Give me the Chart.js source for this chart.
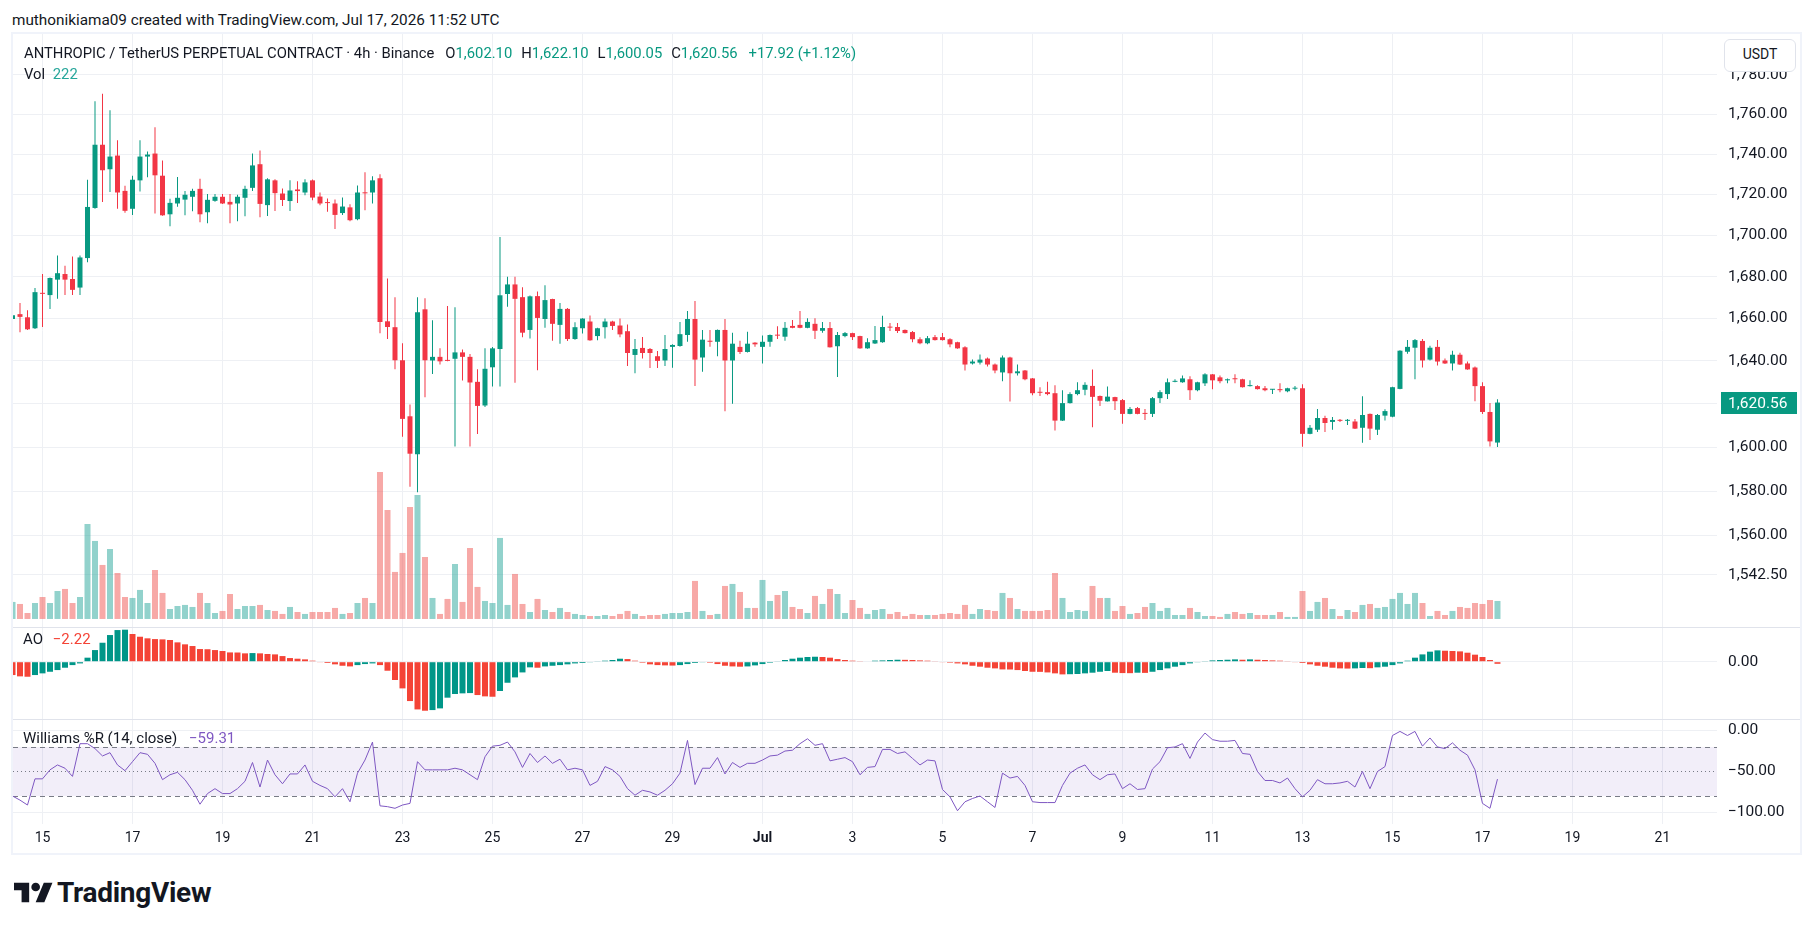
<!DOCTYPE html>
<html>
<head>
<meta charset="utf-8">
<script src="https://cdn.jsdelivr.net/npm/chart.js@4.4.1/dist/chart.umd.min.js"></script>
<style>
  body { margin: 0; width: 1814px; height: 930px; position: relative; overflow: hidden; background: #fff;
         font-family: Roboto, "Noto Sans", sans-serif; color: #131722; }
  .abs { position: absolute; white-space: nowrap; }
  #frame { left: 11px; top: 32px; width: 1791px; height: 823px; box-sizing: border-box; border: 2px solid #f0f3fa; }
  .sep { left: 13px; width: 1787px; height: 1px; background: #e0e3eb; }
  .up { color: #089981; }
  #usdt { left: 1724px; top: 39px; width: 72px; height: 33px; box-sizing: border-box; border: 1px solid #e0e3eb;
          border-radius: 6px; background: #fff; font-size: 14px; line-height: 29px; text-align: center; }
</style>
</head>
<body>
<div id="hdr" class="abs" style="left:12px;top:10px;font-size:15.3px;line-height:20px">muthonikiama09 created with TradingView.com, Jul 17, 2026 11:52 UTC</div>
<div id="frame" class="abs"></div>
<canvas id="mainChart" class="abs" width="1787" height="593" style="left:13px;top:34px"></canvas>
<div class="abs sep" style="top:627px"></div>
<canvas id="aoChart" class="abs" width="1787" height="91" style="left:13px;top:628px"></canvas>
<div class="abs sep" style="top:719px"></div>
<canvas id="wrChart" class="abs" width="1787" height="133" style="left:13px;top:720px"></canvas>

<div id="leg1" class="abs" style="left:24px;top:44px;font-size:14.8px;line-height:19px"></div>
<div id="leg2" class="abs" style="left:24px;top:65px;font-size:14.8px;line-height:19px"></div>
<div id="aoLabel" class="abs" style="left:23px;top:630px;font-size:15px;line-height:18px"></div>
<div id="wrLabel" class="abs" style="left:23px;top:729px;font-size:15px;line-height:18px"></div>
<div id="usdt" class="abs">USDT</div>

<svg class="abs" style="left:14px;top:878px" width="39" height="31" viewBox="0 0 36 28">
  <path fill="#131722" d="M14 22H7V11H0V4h14v18zM28 22h-8l7.5-18h8L28 22z"/>
  <circle fill="#131722" cx="20" cy="8" r="4"/>
</svg>
<div class="abs" style="left:57px;top:876px;font-size:28px;line-height:34px;font-weight:bold;letter-spacing:-0.3px">TradingView</div>

<script>
// 4h candles, Jun 14 08:00 -> Jul 17 08:00
const opens = [
  1659.8,1662.1,1660.6,1655.4,1672.2,1671.2,1678.6,1681.3,1678.9,1674.8,
  1689.0,1713.4,1744.7,1732.5,1739.3,1721.8,1713.0,1727.0,1738.8,1740.3,
  1729.3,1710.3,1715.6,1717.5,1718.9,1722.8,1711.3,1716.9,1718.9,1716.4,
  1715.6,1718.4,1723.3,1735.0,1714.8,1727.0,1720.5,1716.8,1722.5,1721.0,
  1727.0,1719.0,1716.0,1715.6,1710.9,1713.7,1707.9,1721.0,1721.0,1728.0,
  1658.7,1655.9,1640.3,1614.2,1596.7,1664.4,1640.2,1641.9,1640.2,1641.0,
  1644.0,1641.9,1630.2,1619.2,1637.0,1645.6,1671.7,1676.3,1670.2,1654.6,
  1670.7,1659.8,1669.3,1657.0,1664.6,1650.3,1655.4,1658.6,1651.7,1655.9,
  1658.6,1656.7,1654.0,1642.8,1646.1,1645.6,1642.2,1640.2,1646.6,1647.0,
  1652.2,1659.8,1641.6,1649.5,1649.0,1654.6,1640.2,1646.6,1644.2,1648.6,
  1646.6,1649.0,1652.2,1651.4,1656.5,1657.0,1655.6,1657.5,1654.2,1655.5,
  1646.9,1651.7,1653.1,1651.7,1645.9,1648.2,1648.8,1656.0,1656.0,1654.6,
  1653.6,1650.2,1648.3,1651.2,1651.2,1650.2,1648.8,1646.4,1638.8,1639.2,
  1641.1,1638.3,1634.6,1641.6,1634.2,1635.5,1631.8,1625.4,1625.4,1624.9,
  1612.2,1620.3,1624.5,1626.5,1628.3,1623.6,1621.1,1623.1,1621.7,1615.3,
  1618.0,1615.6,1615.3,1622.6,1624.5,1630.2,1630.0,1631.4,1626.3,1629.5,
  1633.7,1632.3,1630.9,1631.8,1631.4,1628.2,1628.2,1627.2,1626.5,1626.8,
  1625.8,1627.0,1627.2,1606.1,1608.0,1613.4,1611.6,1612.5,1612.1,1611.8,
  1608.9,1615.3,1608.0,1614.5,1614.0,1626.9,1644.3,1646.2,1649.4,1640.6,
  1646.6,1640.2,1638.8,1642.9,1638.8,1636.9,1628.2,1616.2,1602.10
];
const highs = [
  1662.0,1667.4,1664.0,1674.6,1681.3,1679.6,1690.2,1685.3,1689.8,1690.2,
  1727.3,1766.5,1770.3,1762.0,1747.0,1724.3,1729.3,1747.0,1741.3,1753.4,
  1736.8,1717.9,1728.7,1721.8,1722.8,1727.8,1720.3,1720.3,1720.3,1720.3,
  1719.9,1724.3,1740.3,1741.8,1728.0,1727.6,1723.0,1727.0,1726.5,1727.5,
  1727.4,1721.0,1718.0,1717.6,1718.5,1715.2,1724.5,1731.0,1729.0,1730.0,
  1679.2,1670.2,1648.3,1619.7,1670.2,1669.7,1659.2,1645.9,1666.0,1665.4,
  1645.4,1643.2,1636.1,1645.9,1646.5,1699.2,1680.0,1680.0,1675.0,1671.0,
  1672.9,1675.9,1669.5,1667.4,1665.0,1658.2,1660.2,1661.4,1655.6,1660.0,
  1659.0,1660.0,1657.2,1650.3,1651.3,1646.1,1644.6,1652.2,1647.8,1658.4,
  1663.6,1668.4,1654.6,1654.6,1654.8,1659.8,1653.3,1649.5,1653.7,1648.8,
  1652.0,1652.4,1656.4,1658.4,1659.3,1663.6,1660.2,1660.2,1658.4,1658.4,
  1653.6,1653.6,1653.3,1651.9,1650.7,1656.5,1661.3,1657.9,1657.9,1654.8,
  1654.1,1651.2,1651.7,1652.2,1653.1,1650.7,1649.0,1646.9,1640.6,1643.0,
  1641.6,1638.8,1642.5,1642.0,1638.3,1635.7,1632.0,1627.7,1630.2,1628.6,
  1626.3,1625.4,1630.0,1630.0,1636.0,1623.8,1628.0,1623.3,1622.2,1618.5,
  1618.5,1617.6,1623.1,1626.3,1631.8,1631.4,1633.2,1632.8,1630.2,1634.2,
  1633.9,1633.2,1631.8,1633.7,1631.6,1630.9,1628.6,1628.2,1626.9,1629.5,
  1627.4,1628.2,1629.1,1610.2,1617.6,1614.4,1613.9,1612.9,1613.0,1613.0,
  1623.5,1615.5,1615.3,1617.5,1627.9,1645.0,1649.8,1650.3,1650.3,1647.1,
  1649.8,1641.1,1644.8,1643.8,1639.7,1637.4,1630.0,1620.3,1622.10
];
const lows = [
  1659.5,1653.5,1654.6,1655.0,1656.0,1664.6,1669.4,1671.2,1671.2,1671.2,
  1687.0,1713.0,1716.3,1721.3,1713.0,1711.0,1710.0,1721.5,1728.5,1710.7,
  1709.6,1704.4,1714.0,1709.8,1711.8,1706.4,1705.9,1716.5,1715.4,1705.9,
  1706.9,1709.3,1721.8,1708.8,1709.5,1711.9,1714.4,1711.9,1715.8,1719.7,
  1717.2,1714.7,1711.5,1703.1,1710.0,1706.9,1707.4,1712.3,1715.6,1653.0,
  1650.3,1636.1,1604.8,1582.0,1579.5,1623.0,1633.9,1638.3,1639.8,1600.3,
  1630.8,1600.3,1606.0,1618.5,1628.0,1628.0,1665.6,1629.8,1651.2,1650.5,
  1635.6,1655.6,1649.5,1648.1,1649.4,1650.0,1652.9,1649.5,1649.7,1650.5,
  1654.6,1651.1,1637.6,1634.2,1641.1,1636.7,1636.7,1637.6,1636.8,1646.6,
  1649.0,1628.2,1634.9,1646.6,1642.2,1616.5,1620.0,1643.3,1644.0,1646.6,
  1638.8,1646.6,1650.3,1649.5,1655.4,1655.4,1655.4,1650.3,1653.3,1646.3,
  1632.5,1651.2,1649.8,1645.7,1645.7,1648.0,1648.6,1654.1,1653.1,1652.9,
  1648.8,1647.8,1647.8,1649.6,1649.6,1646.4,1645.7,1635.5,1638.3,1638.3,
  1637.4,1634.2,1630.5,1621.0,1633.2,1630.9,1624.0,1623.6,1624.0,1607.6,
  1612.0,1620.1,1624.0,1624.0,1609.1,1619.0,1621.0,1617.1,1610.7,1615.1,
  1615.1,1612.5,1613.9,1620.3,1622.2,1630.0,1629.8,1621.7,1625.8,1628.2,
  1626.8,1629.5,1629.5,1629.5,1627.5,1628.0,1626.6,1625.8,1624.5,1625.4,
  1625.4,1626.3,1600.2,1605.9,1607.0,1607.0,1608.0,1611.6,1610.2,1608.3,
  1602.0,1603.3,1605.6,1612.3,1613.8,1626.7,1643.4,1631.4,1636.9,1640.2,
  1637.8,1638.6,1635.5,1638.1,1635.8,1621.2,1615.3,1600.3,1600.05
];
const closes = [
  1661.6,1660.8,1654.9,1672.6,1671.8,1679.4,1681.7,1678.6,1673.7,1689.3,
  1713.9,1744.7,1732.0,1738.8,1721.0,1712.0,1727.3,1738.8,1739.8,1729.5,
  1709.8,1715.9,1718.4,1719.9,1721.8,1710.3,1717.4,1718.9,1715.6,1715.1,
  1718.9,1722.8,1734.4,1715.4,1727.5,1720.7,1717.3,1722.0,1721.7,1726.0,
  1718.5,1715.6,1715.8,1710.0,1714.1,1707.4,1721.0,1720.6,1727.0,1658.4,
  1656.0,1640.3,1613.0,1597.0,1663.0,1640.3,1641.9,1639.8,1640.0,1644.0,
  1641.9,1629.9,1619.0,1636.3,1645.9,1671.1,1676.3,1669.4,1653.3,1670.6,
  1660.3,1668.8,1657.5,1664.6,1650.3,1655.9,1660.0,1649.7,1655.4,1658.6,
  1656.5,1652.5,1643.7,1645.6,1643.7,1643.7,1640.0,1645.6,1647.5,1652.6,
  1659.8,1640.6,1650.0,1649.0,1654.6,1640.2,1648.1,1644.2,1648.1,1647.8,
  1649.0,1652.2,1651.9,1655.6,1655.6,1655.6,1658.4,1654.2,1655.5,1646.4,
  1652.2,1653.1,1651.2,1645.9,1648.8,1649.8,1656.0,1655.7,1654.1,1653.1,
  1650.2,1648.3,1650.7,1649.8,1649.8,1647.8,1645.9,1638.3,1639.7,1640.6,
  1638.3,1635.5,1641.6,1634.2,1635.1,1631.4,1624.9,1625.1,1624.5,1612.2,
  1620.3,1624.5,1626.3,1628.8,1623.2,1621.4,1623.3,1621.2,1615.3,1617.6,
  1615.3,1615.3,1622.6,1625.4,1630.0,1630.5,1631.8,1626.3,1630.0,1633.7,
  1630.9,1630.5,1631.4,1631.4,1627.7,1628.4,1626.8,1626.3,1626.8,1626.3,
  1627.2,1627.2,1606.1,1608.9,1613.4,1611.1,1612.5,1612.1,1612.5,1608.5,
  1614.8,1608.5,1614.8,1616.6,1627.7,1644.8,1646.6,1649.8,1640.2,1646.2,
  1639.7,1638.8,1642.9,1638.3,1636.0,1628.2,1616.2,1602.64,1620.56
];
const volumes = [
  210,185,74,197,271,197,345,370,197,271,
  1171,962,666,863,567,271,259,358,197,604,
  321,123,160,173,148,321,197,74,99,308,
  123,160,160,173,111,99,62,148,86,62,
  86,86,86,136,62,74,197,259,197,1813,
  1344,580,814,1381,1529,764,259,62,247,678,
  210,875,395,222,197,999,173,555,185,86,
  247,111,86,136,86,62,49,37,37,49,
  37,62,99,62,37,49,49,62,74,74,
  86,469,99,49,62,407,432,333,136,136,
  481,222,296,345,148,123,74,284,185,370,
  308,74,234,136,62,111,123,62,86,37,
  62,49,49,49,62,74,62,173,62,123,
  111,99,321,259,123,99,99,99,111,567,
  259,86,111,99,407,259,259,99,160,62,
  74,148,197,99,136,49,49,136,86,37,
  37,25,62,86,62,74,49,49,49,86,
  25,25,345,99,210,259,123,37,111,86,
  173,185,136,148,247,321,185,321,197,37,
  99,49,99,148,136,197,185,234,222
];
const aoValues = [
  -14.2,-15.6,-16.0,-14.2,-12.4,-10.7,-8.9,-6.4,-3.6,-1.8,
  4.3,12.4,20.2,28.4,33.7,34.1,29.5,26.6,24.9,24.1,
  23.8,23.1,20.6,18.5,16.7,13.5,13.3,12.4,11.4,9.9,
  9.8,8.9,9.2,8.9,8.2,7.8,6.0,3.9,3.2,2.5,
  1.1,-0.4,-1.4,-2.8,-4.3,-5.0,-3.6,-2.5,-1.8,-3.6,
  -9.6,-19.5,-28.4,-41.9,-50.8,-52.2,-51.5,-49.7,-38.3,-34.4,
  -33.7,-33.4,-35.5,-36.9,-37.3,-31.2,-22.4,-16.7,-11.4,-6.0,
  -6.4,-5.0,-4.3,-3.6,-2.8,-1.8,-1.4,-0.7,0.4,1.1,
  1.8,3.2,2.8,1.1,-1.1,-2.8,-3.6,-3.9,-4.1,-3.6,
  -2.5,-1.4,-0.7,-1.1,-2.5,-4.3,-5.0,-5.3,-5.0,-3.9,
  -2.5,-1.1,0.4,1.8,3.2,4.3,5.0,5.3,5.0,4.3,
  2.8,1.8,1.1,0.7,0.5,1.1,1.4,1.8,2.1,2.0,
  1.8,1.4,1.1,0.4,-0.4,-1.1,-1.8,-2.8,-4.3,-5.3,
  -6.4,-7.1,-8.2,-8.3,-8.9,-9.9,-10.7,-10.8,-11.4,-12.4,
  -13.5,-13.3,-13.1,-12.4,-11.7,-10.7,-9.9,-11.7,-12.1,-12.2,
  -11.7,-11.9,-10.7,-8.9,-7.1,-5.3,-3.6,-1.8,-0.7,0.7,
  1.4,1.8,2.1,2.5,2.1,2.5,2.1,1.8,1.4,1.1,
  0.7,-0.4,-1.4,-2.8,-4.3,-5.3,-6.4,-7.1,-7.3,-7.1,
  -6.7,-6.9,-6.0,-5.3,-3.6,-1.8,1.1,4.3,7.8,10.7,
  12.1,11.7,11.4,11.0,9.6,7.5,5.0,1.8,-2.22
];
const williamsR = [
  -80,-85,-91,-59,-59,-48,-42,-46,-56,-16,
  -16,-22,-31,-27,-42,-49,-38,-27,-29,-40,
  -60,-54,-51,-60,-73,-90,-77,-71,-77,-77,
  -71,-62,-39,-69,-36,-54,-65,-53,-53,-42,
  -62,-67,-71,-81,-71,-87,-52,-36,-14,-92,
  -93,-95,-91,-89,-38,-48,-48,-48,-48,-46,
  -48,-54,-60,-32,-19,-18,-14,-26,-45,-28,
  -39,-31,-40,-35,-48,-46,-48,-67,-62,-44,
  -48,-56,-71,-79,-73,-75,-79,-73,-65,-52,
  -12,-66,-46,-46,-33,-53,-39,-45,-40,-40,
  -36,-31,-30,-25,-24,-16,-10,-18,-16,-37,
  -35,-33,-38,-54,-45,-44,-23,-23,-28,-26,
  -34,-42,-36,-37,-72,-81,-98,-87,-83,-80,
  -87,-94,-52,-58,-56,-67,-87,-88,-88,-88,
  -67,-52,-46,-42,-54,-60,-54,-53,-71,-65,
  -72,-71,-47,-38,-21,-20,-16,-34,-14,-3,
  -11,-13,-13,-12,-28,-29,-50,-61,-61,-64,
  -58,-71,-81,-73,-60,-65,-65,-64,-62,-69,
  -50,-71,-50,-44,-6,-1,-6,-1,-19,-9,
  -20,-22,-15,-24,-30,-48,-89,-95,-59.31
];
// x-axis: candle index of each date label (every 2 days)
const dateTicks = [4,16,28,40,52,64,76,88,100,112,124,136,148,160,172,184,196,208,220];
const dateLabels = ['15','17','19','21','23','25','27','29','Jul','3','5','7','9','11','13','15','17','19','21'];
const priceTicks = [1542.5,1560,1580,1600,1620,1640,1660,1680,1700,1720,1740,1760,1780];
const aoTicks = [0];
const wrTicks = [0,-50,-100];

const UP = '#089981', DOWN = '#f23645';
const GRID = '#eef0f4', TEXT = '#131722';
const FONT = 'Roboto';
const AXIS_W = 83;
const X_MIN = 0.0667, X_MAX = 227.27;
const last = closes.length - 1;

Chart.defaults.font.family = FONT;
Chart.defaults.color = TEXT;

const fmt = v => v.toLocaleString('en-US', {minimumFractionDigits: 2, maximumFractionDigits: 2}).replace('-', '\u2212');
const idx = closes.map((_, i) => i);
const isUp = idx.map(i => closes[i] >= opens[i]);
const candleColors = isUp.map(u => u ? UP : DOWN);
const volColors = isUp.map(u => u ? 'rgba(38,166,154,0.5)' : 'rgba(239,83,80,0.5)');
const aoColors = aoValues.map((v, i) => i > 0 && v > aoValues[i - 1] ? '#009688' : '#f44336');

const xAxis = (showLabels) => ({
  type: 'linear', min: X_MIN, max: X_MAX, offset: false,
  grid: { color: GRID, drawTicks: false, offset: false },
  border: { display: false },
  ticks: {
    display: showLabels, autoSkip: false, maxRotation: 0, padding: 6, color: TEXT,
    font: c => ({ family: FONT, size: 14, weight: c.tick && c.tick.value === 100 ? 'bold' : 'normal' }),
    callback: (v, i) => dateLabels[i]
  },
  afterBuildTicks: s => { s.ticks = dateTicks.map(v => ({ value: v })); },
  afterFit: s => { s.height = showLabels ? 29 : 0; s.paddingLeft = 0; s.paddingRight = 0; }
});

const yAxis = (type, min, max, ticks, gridColor) => ({
  type: type, position: 'right', min: min, max: max, bounds: 'data',
  grid: { color: gridColor || GRID, drawTicks: false },
  border: { display: false },
  ticks: { padding: 11, color: TEXT, font: { size: 15.5 }, callback: v => fmt(v) },
  afterBuildTicks: s => { s.ticks = ticks.map(v => ({ value: v })); },
  afterFit: s => { s.width = AXIS_W; s.paddingTop = 0; s.paddingBottom = 0; }
});

const baseOptions = {
  responsive: false, animation: false, events: [],
  layout: { padding: 0 },
  plugins: { legend: { display: false }, tooltip: { enabled: false } },
  datasets: { bar: { grouped: false, inflateAmount: 0 } }
};

// last price tag on the price scale
const lastPriceTag = {
  id: 'lastPriceTag',
  afterDraw(chart) {
    const { ctx, chartArea, scales } = chart;
    const y = Math.round(scales.y.getPixelForValue(closes[last]));
    ctx.save();
    ctx.fillStyle = isUp[last] ? UP : DOWN;
    ctx.fillRect(chartArea.right + 4, y - 11, 76, 22);
    ctx.fillStyle = '#fff';
    ctx.font = '15.5px ' + FONT;
    ctx.textBaseline = 'middle';
    ctx.fillText(fmt(closes[last]), chartArea.right + 11, y + 1);
    ctx.restore();
  }
};

new Chart(document.getElementById('mainChart'), {
  type: 'bar',
  data: {
    datasets: [
      { data: idx.map(i => ({ x: i, y: [opens[i], closes[i]] })), backgroundColor: candleColors,
        barThickness: 5, minBarLength: 1, yAxisID: 'y', order: 1 },
      { data: idx.map(i => ({ x: i, y: [lows[i], highs[i]] })), backgroundColor: candleColors,
        barThickness: 1, yAxisID: 'y', order: 2 },
      { data: idx.map(i => ({ x: i, y: volumes[i] })), backgroundColor: volColors,
        barThickness: 6, yAxisID: 'yv', order: 3 }
    ]
  },
  options: Object.assign({}, baseOptions, {
    scales: {
      x: xAxis(false),
      y: yAxis('logarithmic', 1519.7, 1800.9, priceTicks),
      yv: { type: 'linear', display: false, min: -99, max: 7213 }
    }
  }),
  plugins: [lastPriceTag]
});

new Chart(document.getElementById('aoChart'), {
  type: 'bar',
  data: {
    datasets: [
      { data: idx.map(i => ({ x: i, y: aoValues[i] })), backgroundColor: aoColors, barThickness: 6 }
    ]
  },
  options: Object.assign({}, baseOptions, {
    scales: { x: xAxis(false), y: yAxis('linear', -61.0, 35.9, aoTicks) }
  })
});

// %R band between -20 and -80
const wrBand = {
  id: 'wrBand',
  beforeDatasetsDraw(chart) {
    const { ctx, chartArea: { left, right }, scales: { y } } = chart;
    const y20 = y.getPixelForValue(-20), y50 = y.getPixelForValue(-50), y80 = y.getPixelForValue(-80);
    ctx.save();
    ctx.fillStyle = 'rgba(126,87,194,0.1)';
    ctx.fillRect(left, y20, right - left, y80 - y20);
    ctx.strokeStyle = '#787b86';
    ctx.lineWidth = 1;
    ctx.setLineDash([5, 4]);
    [y20, y80].forEach(py => {
      ctx.beginPath(); ctx.moveTo(left, Math.round(py) + 0.5); ctx.lineTo(right, Math.round(py) + 0.5); ctx.stroke();
    });
    ctx.setLineDash([1, 3]);
    ctx.beginPath(); ctx.moveTo(left, Math.round(y50) + 0.5); ctx.lineTo(right, Math.round(y50) + 0.5); ctx.stroke();
    ctx.restore();
  }
};

new Chart(document.getElementById('wrChart'), {
  type: 'line',
  data: {
    datasets: [
      { data: idx.map(i => ({ x: i, y: williamsR[i] })), borderColor: '#7e57c2', borderWidth: 1,
        pointRadius: 0, tension: 0, fill: false }
    ]
  },
  options: Object.assign({}, baseOptions, {
    scales: {
      x: xAxis(true),
      y: yAxis('linear', -114.2, 12.96, wrTicks, c => c.tick && c.tick.value === -50 ? 'rgba(0,0,0,0)' : GRID)
    }
  }),
  plugins: [wrBand]
});

// legends
const chg = closes[last] - closes[last - 1];
const pct = chg / closes[last - 1] * 100;
const ohlc = [['O', opens[last]], ['H', highs[last]], ['L', lows[last]], ['C', closes[last]]];
document.getElementById('leg1').innerHTML = 'ANTHROPIC / TetherUS PERPETUAL CONTRACT \u00b7 4h \u00b7 Binance' +
  ohlc.map(([k, v], n) => `<span style="margin-left:${n ? 9 : 11}px">${k}<span class="up">${fmt(v)}</span></span>`).join('') +
  `<span class="up" style="margin-left:11px">+${chg.toFixed(2)} (+${pct.toFixed(2)}%)</span>`;
document.getElementById('leg2').innerHTML = `Vol <span style="color:#26a69a;margin-left:4px">${volumes[last]}</span>`;
document.getElementById('aoLabel').innerHTML = `AO <span style="color:${aoColors[last]};margin-left:6px">${fmt(aoValues[last])}</span>`;
document.getElementById('wrLabel').innerHTML = `Williams %R (14, close) <span style="color:#7e57c2;margin-left:8px">${fmt(williamsR[last])}</span>`;
</script>
</body>
</html>
